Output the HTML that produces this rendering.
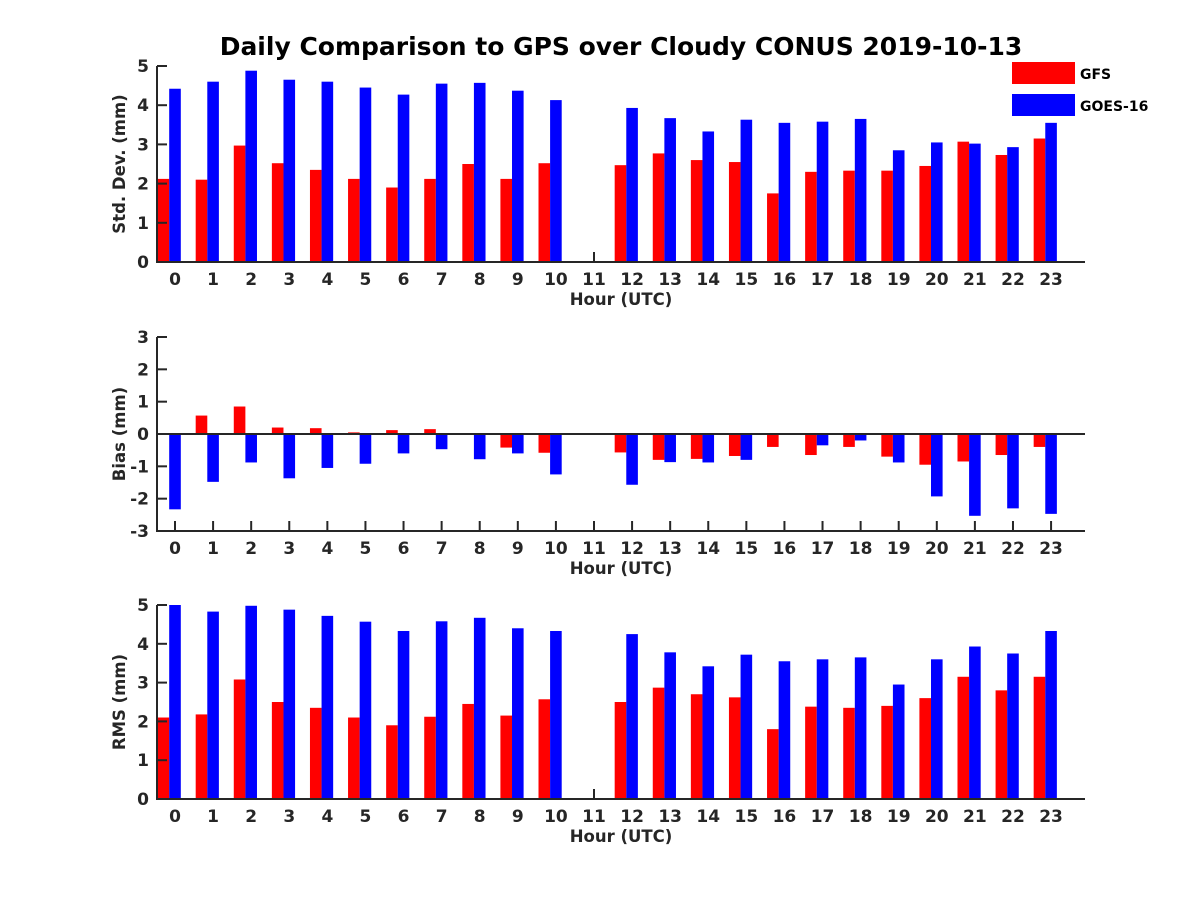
<!DOCTYPE html>
<html><head><meta charset="utf-8"><style>
body{margin:0;background:#fff;}
svg{display:block;font-family:"DejaVu Sans","Liberation Sans",sans-serif;font-weight:bold;}
</style></head><body>
<svg id="chart" width="1200" height="900" xmlns="http://www.w3.org/2000/svg">
<rect width="1200" height="900" fill="#fff"/>
<text x="621" y="55" font-size="25" text-anchor="middle" fill="#000">Daily Comparison to GPS over Cloudy CONUS 2019-10-13</text>
<g>
<rect x="1012" y="62" width="63" height="22" fill="#ff0000"/>
<text x="1080" y="79" font-size="14" fill="#000">GFS</text>
<rect x="1012" y="94" width="63" height="22" fill="#0000ff"/>
<text x="1080" y="111" font-size="14" fill="#000">GOES-16</text>
</g>
</svg>
<script>
const hours=[0,1,2,3,4,5,6,7,8,9,10,11,12,13,14,15,16,17,18,19,20,21,22,23];
const stdGFS=[2.12,2.1,2.97,2.52,2.35,2.12,1.9,2.12,2.5,2.12,2.52,null,2.47,2.77,2.6,2.55,1.75,2.3,2.33,2.33,2.45,3.07,2.73,3.15];
const stdGOES=[4.42,4.6,4.88,4.65,4.6,4.45,4.27,4.55,4.57,4.37,4.13,null,3.93,3.67,3.33,3.63,3.55,3.58,3.65,2.85,3.05,3.02,2.93,3.55];
const biasGFS=[0,0.57,0.85,0.2,0.18,0.05,0.12,0.15,0,-0.42,-0.58,null,-0.57,-0.8,-0.77,-0.68,-0.4,-0.65,-0.4,-0.7,-0.95,-0.85,-0.65,-0.4];
const biasGOES=[-2.33,-1.48,-0.88,-1.37,-1.05,-0.92,-0.6,-0.47,-0.78,-0.6,-1.25,null,-1.57,-0.87,-0.88,-0.8,0,-0.35,-0.2,-0.88,-1.93,-2.53,-2.3,-2.47];
const rmsGFS=[2.1,2.18,3.08,2.5,2.35,2.1,1.9,2.12,2.45,2.15,2.57,null,2.5,2.87,2.7,2.62,1.8,2.38,2.35,2.4,2.6,3.15,2.8,3.15];
const rmsGOES=[5.0,4.83,4.98,4.88,4.72,4.57,4.33,4.58,4.67,4.4,4.33,null,4.25,3.78,3.42,3.72,3.55,3.6,3.65,2.95,3.6,3.93,3.75,4.33];
const stdTicks=[0,1,2,3,4,5];
const biasTicks=[-3,-2,-1,0,1,2,3];
const rmsTicks=[0,1,2,3,4,5];

const NS="http://www.w3.org/2000/svg";
const svg=document.getElementById('chart');
const X0=157,X1=1085;
function xs(h){return 175+h*38.09;}
const BW=11.6;
function mk(tag,attrs,parent){const e=document.createElementNS(NS,tag);for(const k in attrs)e.setAttribute(k,attrs[k]);(parent||svg).appendChild(e);return e;}

function panel(name,top,bot,ymin,ymax,ticks,red,blue,ylabel,zeroLine){
  const g=mk('g',{});
  
  
  const ys=v=>bot-(v-ymin)/(ymax-ymin)*(bot-top);
  const base=ys(Math.max(ymin,Math.min(0,ymax)));
  hours.forEach(h=>{
    mk('line',{x1:xs(h),x2:xs(h),y1:bot,y2:bot-10,stroke:'#262626','stroke-width':2},g);
  });
  hours.forEach((h,i)=>{
    [[red,'#ff0000',true,'gfs'],[blue,'#0000ff',false,'goes16']].forEach(([arr,col,isRed,sn])=>{
      const v=arr[i]; if(v===null||v===0)return;
      const y=ys(v);
      const r=mk('rect',{x:isRed?xs(h)-BW*1.5:xs(h)-BW/2,y:Math.min(y,base),width:BW,height:Math.abs(base-y),fill:col},g);
      
      
    });
  });
  const ax=mk('path',{d:`M${X0},${top} L${X0},${bot} L${X1},${bot}`,stroke:'#262626','stroke-width':2,fill:'none'},g);
  
  
  if(zeroLine){const z=mk('line',{x1:X0,x2:X1,y1:ys(0),y2:ys(0),stroke:'#262626','stroke-width':2},g);
    
    }
  ticks.forEach(t=>{
    const y=ys(t);
    mk('line',{x1:X0,x2:X0+10,y1:y,y2:y,stroke:'#262626','stroke-width':2},g);
    const tx=mk('text',{x:X0-8,y:y+6,'font-size':17,'text-anchor':'end',fill:'#262626'},g);
    tx.textContent=t;
    
    
  });
  hours.forEach(h=>{
    const tx=mk('text',{x:xs(h),y:bot+23,'font-size':17,'text-anchor':'middle',fill:'#262626'},g);
    tx.textContent=h;
    
    
  });
  const xl=mk('text',{x:621,y:bot+43,'font-size':16.5,'text-anchor':'middle',fill:'#262626'},g);
  xl.textContent='Hour (UTC)';
  
  
  const cy=(top+bot)/2;
  const yl=mk('text',{x:125,y:cy,'font-size':16.5,'text-anchor':'middle',fill:'#262626',transform:`rotate(-90 125 ${cy})`},g);
  yl.textContent=ylabel;
  
  
}
panel('std-dev',66,262,0,5,stdTicks,stdGFS,stdGOES,'Std. Dev. (mm)',false);
panel('bias',337,531,-3,3,biasTicks,biasGFS,biasGOES,'Bias (mm)',true);
panel('rms',605,799,0,5,rmsTicks,rmsGFS,rmsGOES,'RMS (mm)',false);
</script>
</body></html>
